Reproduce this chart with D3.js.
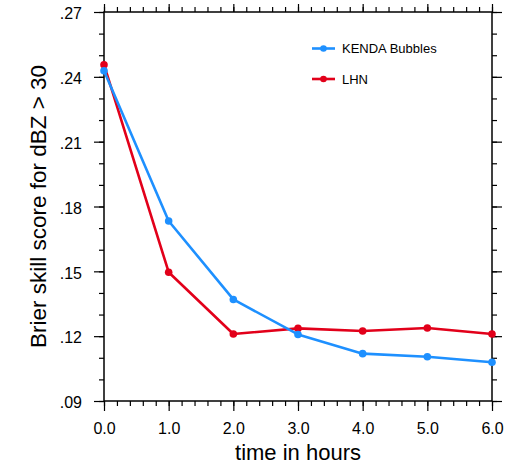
<!DOCTYPE html>
<html>
<head>
<meta charset="utf-8">
<script src="https://cdn.jsdelivr.net/npm/d3@7"></script>
<style>
  body { margin: 0; background: #fff; }
  text { font-family: "Liberation Sans", Arial, sans-serif; fill: #000; }
</style>
</head>
<body>
<div id="chart"></div>
<script>
const hours = [0, 1, 2, 3, 4, 5, 6];
const kendaValues = [0.2428, 0.1733, 0.1370, 0.1208, 0.1119, 0.1105, 0.1079];
const lhnValues = [0.2456, 0.1496, 0.1210, 0.1236, 0.1224, 0.1238, 0.1210];
const xTicks = [0, 1, 2, 3, 4, 5, 6];
const yTicks = [0.09, 0.12, 0.15, 0.18, 0.21, 0.24, 0.27];

const series = [
  { name: "LHN", values: lhnValues, color: "#e2001a", legendY: 79 },
  { name: "KENDA Bubbles", values: kendaValues, color: "#1e90ff", legendY: 48.5 }
];

const W = 516, H = 472;
const plotL = 104, plotR = 492, plotT = 12, plotB = 401;

const svg = d3.select("#chart")
  .append("svg")
    .attr("width", W)
    .attr("height", H);

const x = d3.scaleLinear().domain([0, 6]).range([plotL, plotR]);
const y = d3.scaleLinear().domain([0.09, 0.27]).range([plotB, plotT]);

const xMinor = d3.range(0, 6.001, 0.2).map(function(d) { return +d.toFixed(1); });
const yMinor = d3.range(0.09, 0.2701, 0.01).map(function(d) { return +d.toFixed(2); });

const fmtY = function(d) { return d.toFixed(2).replace(/^0/, ""); };
const fmtX = function(d) { return d.toFixed(1); };

function addAxis(axis, transform, labels) {
  const g = svg.append("g").attr("transform", transform).call(axis);
  g.select(".domain").remove();
  g.selectAll("line").attr("stroke", "#000").attr("stroke-width", 1.2);
  if (!labels) g.selectAll("text").remove();
  return g;
}

// minor ticks
addAxis(d3.axisBottom(x).tickValues(xMinor).tickSize(5), "translate(0," + plotB + ")", false);
addAxis(d3.axisTop(x).tickValues(xMinor).tickSize(5), "translate(0," + plotT + ")", false);
addAxis(d3.axisLeft(y).tickValues(yMinor).tickSize(5), "translate(" + plotL + ",0)", false);
addAxis(d3.axisRight(y).tickValues(yMinor).tickSize(5), "translate(" + plotR + ",0)", false);

// major ticks
const xb = addAxis(d3.axisBottom(x).tickValues(xTicks).tickSize(10).tickPadding(12).tickFormat(fmtX),
  "translate(0," + plotB + ")", true);
xb.selectAll("text").attr("font-size", 16).attr("font-family", "Liberation Sans, Arial, sans-serif");
addAxis(d3.axisTop(x).tickValues(xTicks).tickSize(8), "translate(0," + plotT + ")", false);
const yl = addAxis(d3.axisLeft(y).tickValues(yTicks).tickSize(10).tickPadding(12).tickFormat(fmtY),
  "translate(" + plotL + ",0)", true);
yl.selectAll("text").attr("font-size", 16).attr("dy", "0.42em").attr("font-family", "Liberation Sans, Arial, sans-serif");
addAxis(d3.axisRight(y).tickValues(yTicks).tickSize(10), "translate(" + plotR + ",0)", false);

// frame
svg.append("rect")
  .attr("x", plotL).attr("y", plotT)
  .attr("width", plotR - plotL).attr("height", plotB - plotT)
  .attr("fill", "none").attr("stroke", "#000").attr("stroke-width", 1.5);

// lines
const line = d3.line()
  .x(function(d, i) { return x(hours[i]); })
  .y(function(d) { return y(d); });

series.forEach(function(s) {
  const g = svg.append("g");
  g.append("path")
    .attr("d", line(s.values))
    .attr("fill", "none")
    .attr("stroke", s.color)
    .attr("stroke-width", 2.6)
    .attr("stroke-linejoin", "round");
  g.selectAll("circle")
    .data(s.values).enter()
    .append("circle")
      .attr("cx", function(d, i) { return x(hours[i]); })
      .attr("cy", function(d) { return y(d); })
      .attr("r", 3.8)
      .attr("fill", s.color);

  // legend
  svg.append("line")
    .attr("x1", 312).attr("x2", 335)
    .attr("y1", s.legendY).attr("y2", s.legendY)
    .attr("stroke", s.color).attr("stroke-width", 2.6);
  svg.append("circle")
    .attr("cx", 323.5).attr("cy", s.legendY).attr("r", 3.3)
    .attr("fill", s.color);
  svg.append("text")
    .attr("x", 342).attr("y", s.legendY + 4.7)
    .attr("font-size", 13)
    .text(s.name);
});

// axis titles
svg.append("text")
  .attr("x", (plotL + plotR) / 2)
  .attr("y", 460)
  .attr("text-anchor", "middle")
  .attr("font-size", 22)
  .text("time in hours");

svg.append("text")
  .attr("transform", "translate(46," + ((plotT + plotB) / 2) + ") rotate(-90)")
  .attr("text-anchor", "middle")
  .attr("font-size", 22.5)
  .text("Brier skill score for dBZ > 30");
</script>
</body>
</html>
